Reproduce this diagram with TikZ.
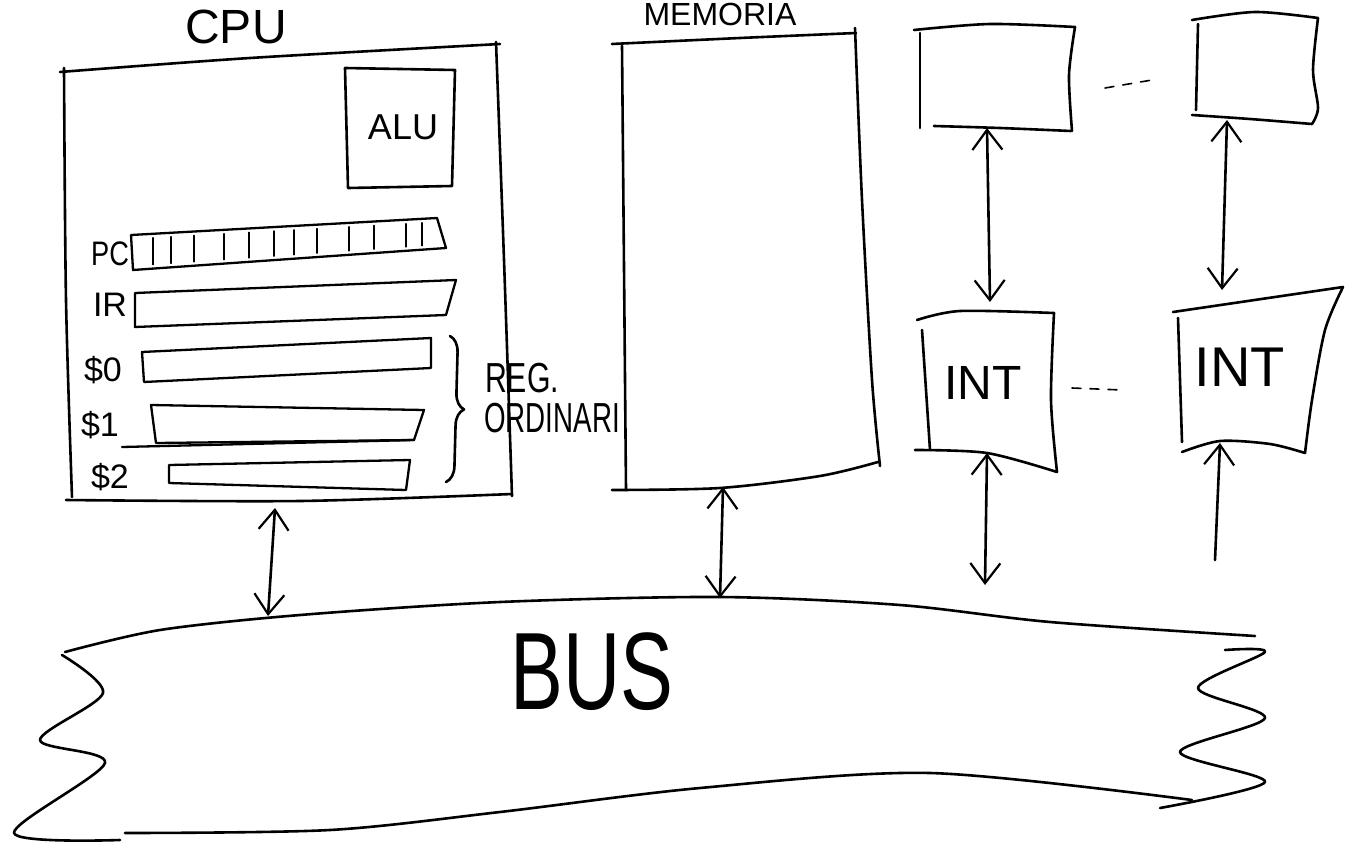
\documentclass[tikz,border=0pt]{standalone}
\usepackage{fontspec}
\setmainfont{Liberation Sans}
\usetikzlibrary{arrows.meta,decorations.pathreplacing}
\begin{document}
\begin{tikzpicture}[x=1pt,y=-1pt,
  ink/.style={line width=2.6pt,line cap=round,line join=round},
  reg/.style={line width=2.3pt,line cap=round,line join=round},
  fine/.style={line width=1.6pt,line cap=round},
  lbl/.style={inner sep=0pt,font=\fontsize{#1}{#1}\selectfont},
  barb/.tip={Straight Barb[length=20pt,width=30pt,line width=2.2pt]},
  link/.style={ink,{barb}-{barb}},
  uplink/.style={ink,{barb}-}
]
\useasboundingbox (0,0) rectangle (1356,843);

% ---------- CPU ----------
\node[lbl=48] (cpulbl) at (236,27) {CPU};
\draw[ink] plot[smooth] coordinates {(60,72) (250,58) (500,44)};
\draw[ink] plot[smooth] coordinates {(64,68) (66,300) (72,497)};
\draw[ink] plot[smooth] coordinates {(496,42) (504,260) (512,496)};
\draw[ink] plot[smooth] coordinates {(66,500) (300,501) (512,494)};
\coordinate (cpuS) at (275,508);

% ALU
\draw[ink] (345,68) -- (455,70) -- (452,186) -- (348,188) -- cycle;
\node[lbl=36] (alu) at (403,127) {ALU};

% registers
\draw[reg] (131,235) -- (437,218) -- (446,248) -- (133,270) -- cycle;
\foreach \x in {153,171,194,224,249,274,294,317,349,374,406,422}{
  \pgfmathsetmacro\ta{235-(\x-131)*0.0556+4}
  \pgfmathsetmacro\tb{270-(\x-133)*0.0703-4}
  \draw[fine] (\x,\ta) -- (\x,\tb);
}
\draw[reg] (135,293) -- (456,280) -- (446,315) -- (135,327) -- cycle;
\draw[reg] (142,352) -- (431,338) -- (431,368) -- (144,382) -- cycle;
\draw[reg] (151,405) -- (424,410) -- (414,440) -- (156,443) -- cycle;
\draw[reg] (122,447) -- (414,440);
\draw[reg] (169,465) -- (410,460) -- (406,490) -- (169,483) -- cycle;

\node[lbl=34] (pc) at (110,254) {\scalebox{0.8}[1]{PC}};
\node[lbl=34] (ir) at (110,305) {IR};
\node[lbl=34] (r0) at (103,370) {\$0};
\node[lbl=34] (r1) at (100,425) {\$1};
\node[lbl=34] (r2) at (110,477) {\$2};

\draw[ink,decorate,decoration={brace,amplitude=16pt}] (450,336) -- (446,482);
\node[lbl=42] (reg) at (522,378) {\scalebox{0.72}[1]{REG.}};
\node[lbl=42] (ord) at (552,418) {\scalebox{0.66}[1]{ORDINARI}};

% ---------- MEMORIA ----------
\node[lbl=32] (memlbl) at (720,14) {MEMORIA};
\draw[ink] plot[smooth] coordinates {(612,44) (740,38) (856,33)};
\draw[ink] (622,46) -- (626,490);
\draw[ink] plot[smooth] coordinates {(855,28) (862,200) (872,380) (880,466)};
\draw[ink] plot[smooth] coordinates {(612,490) (720,488) (820,476) (878,462)};
\coordinate (memS) at (723,487);

% ---------- devices ----------
\draw[ink] plot[smooth] coordinates {(914,30) (990,24) (1075,27)};
\draw[ink] plot[smooth] coordinates {(1075,27) (1069,75) (1072,131)};
\draw[ink] plot[smooth] coordinates {(934,126) (1000,128) (1071,131)};
\draw[ink] (920,33) -- (920,128);
\coordinate (d1S) at (987,128);

\draw[ink] plot[smooth] coordinates {(1192,20) (1255,12) (1318,18)};
\draw[ink] plot[smooth] coordinates {(1318,18) (1313,70) (1318,108) (1312,124)};
\draw[ink] plot[smooth] coordinates {(1192,115) (1250,119) (1312,124)};
\draw[ink] (1198,24) -- (1196,110);
\coordinate (d2S) at (1227,120);

\draw[fine,dash pattern=on 9pt off 9pt] (1105,88) -- (1152,80);

% ---------- INT ----------
\draw[ink] plot[smooth] coordinates {(917,320) (960,311) (1054,313)};
\draw[ink] plot[smooth] coordinates {(1054,313) (1051,400) (1057,472)};
\draw[ink] plot[smooth] coordinates {(915,450) (987,453) (1057,472)};
\draw[ink] (922,330) -- (930,450);
\node[lbl=48] (int1) at (983,383) {INT};
\coordinate (i1N) at (990,302);
\coordinate (i1S) at (987,453);

\draw[ink] (1173,312) -- (1343,287);
\draw[ink] plot[smooth] coordinates {(1343,287) (1325,330) (1312,400) (1305,453)};
\draw[ink] plot[smooth] coordinates {(1182,452) (1220,441) (1270,444) (1305,453)};
\draw[ink] (1178,318) -- (1182,442);
\node[lbl=56] (int2) at (1240,367) {INT};
\coordinate (i2N) at (1222,290);
\coordinate (i2S) at (1220,443);

\draw[fine,dash pattern=on 9pt off 9pt] (1072,388) -- (1122,390);

\coordinate (e1) at (985,585);
\coordinate (e2) at (1215,560);

% ---------- BUS ----------
\draw[ink] plot[smooth] coordinates {(65,652) (160,630) (300,615) (500,602) (720,597) (900,605) (1050,622) (1255,636)};
\draw[ink] plot[smooth] coordinates {(62,655) (103,693) (40,740) (105,763) (14,833) (120,840)};
\draw[ink] plot[smooth] coordinates {(125,833) (330,830) (500,812) (700,788) (930,773) (1192,800)};
\draw[ink] plot[smooth] coordinates {(1225,650) (1265,652) (1198,688) (1265,718) (1180,752) (1265,782) (1160,808)};
\node[lbl=110] (bus) at (592,672) {\scalebox{0.72}[1]{BUS}};
\coordinate (busN1) at (268,616);
\coordinate (busN2) at (720,598);

% ---------- connectors ----------
\draw[link] (cpuS) -- (busN1);
\draw[link] (memS) -- (busN2);
\draw[link] (d1S) -- (i1N);
\draw[link] (d2S) -- (i2N);
\draw[link] (i1S) -- (e1);
\draw[uplink] (i2S) -- (e2);
\end{tikzpicture}
\end{document}
